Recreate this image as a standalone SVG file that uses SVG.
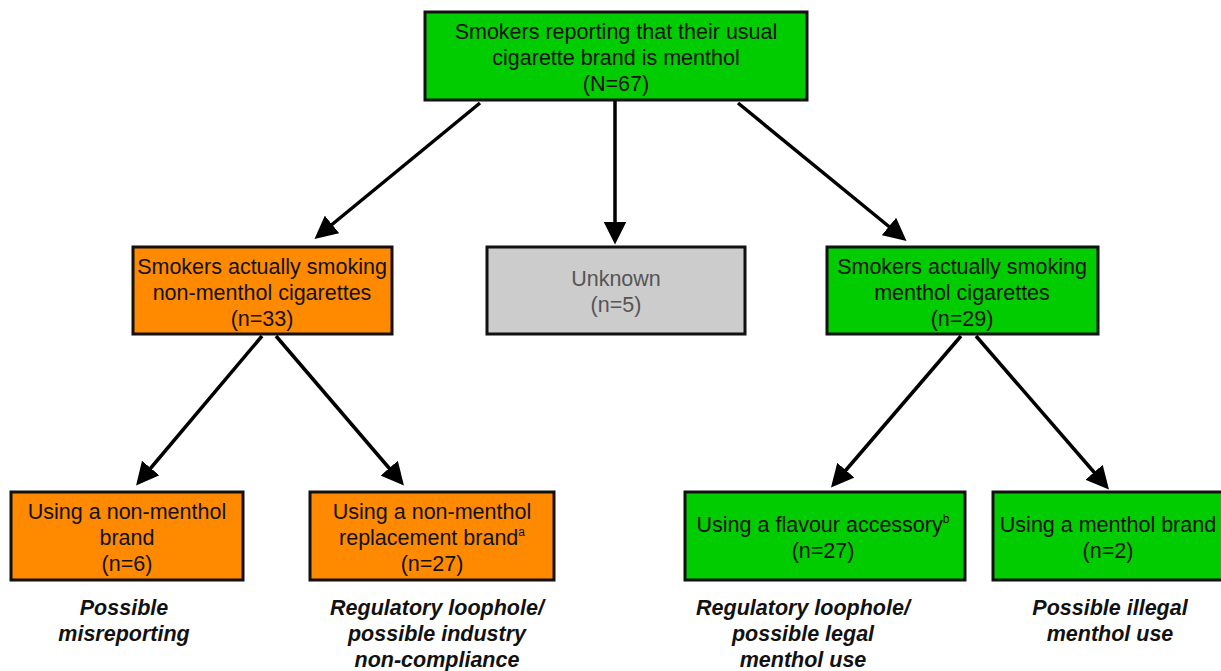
<svg xmlns="http://www.w3.org/2000/svg" width="1221" height="671" viewBox="0 0 1221 671">
<style>
.box{stroke:#111;stroke-width:3}
.g{fill:#00CC00}
.o{fill:#FF8A00}
.u{fill:#CCCCCC}
text{font-family:"Liberation Sans",Arial,sans-serif;font-size:21.5px;text-anchor:middle;fill:#111}
.grey{fill:#555}
.lab{font-weight:bold;font-style:italic;font-size:21.5px}
.c{stroke:#000;stroke-width:3.5;fill:none;marker-end:url(#ah)}
</style>
<defs>
<marker id="ah" viewBox="0 0 10 10" refX="8" refY="5" markerWidth="6.5" markerHeight="6.5" orient="auto" markerUnits="strokeWidth">
<path d="M0,0 L10,5 L0,10 z" fill="#000"/>
</marker>
</defs>
<rect width="1221" height="671" fill="#fff"/>
<g id="connectors">
<line class="c" x1="480" y1="103" x2="318" y2="236"/>
<line class="c" x1="615" y1="100" x2="615" y2="240"/>
<line class="c" x1="738" y1="103" x2="903" y2="238"/>
<line class="c" x1="262" y1="336" x2="139" y2="482"/>
<line class="c" x1="276" y1="336" x2="401" y2="482"/>
<line class="c" x1="961" y1="336" x2="834" y2="484"/>
<line class="c" x1="976" y1="336" x2="1106" y2="486"/>
</g>
<g id="top">
<rect class="box g" x="425" y="12" width="382" height="88"/>
<text x="616" y="39">Smokers reporting that their usual</text>
<text x="616" y="65">cigarette brand is menthol</text>
<text x="616" y="91">(N=67)</text>
</g>
<g id="nonmenthol">
<rect class="box o" x="133" y="247" width="259" height="87"/>
<text x="262" y="274">Smokers actually smoking</text>
<text x="262" y="300">non-menthol cigarettes</text>
<text x="262" y="326">(n=33)</text>
</g>
<g id="unknown">
<rect class="box u" x="487" y="247" width="258" height="87"/>
<text class="grey" x="616" y="286">Unknown</text>
<text class="grey" x="616" y="312">(n=5)</text>
</g>
<g id="menthol">
<rect class="box g" x="827" y="247" width="271" height="87"/>
<text x="962" y="274">Smokers actually smoking</text>
<text x="962" y="300">menthol cigarettes</text>
<text x="962" y="326">(n=29)</text>
</g>
<g id="nonmentholbrand">
<rect class="box o" x="11" y="492" width="232" height="88"/>
<text x="127" y="519">Using a non-menthol</text>
<text x="127" y="545">brand</text>
<text x="127" y="571">(n=6)</text>
</g>
<g id="replacement">
<rect class="box o" x="310" y="492" width="244" height="88"/>
<text x="432" y="519">Using a non-menthol</text>
<text x="432" y="545">replacement brand<tspan font-size="12" dy="-9">a</tspan></text>
<text x="432" y="571">(n=27)</text>
</g>
<g id="accessory">
<rect class="box g" x="685" y="492" width="280" height="88"/>
<text x="823" y="532">Using a flavour accessory<tspan font-size="12" dy="-9">b</tspan></text>
<text x="823" y="558">(n=27)</text>
</g>
<g id="mentholbrand">
<rect class="box g" x="993" y="492" width="232" height="88"/>
<text x="1108" y="532">Using a menthol brand</text>
<text x="1108" y="558">(n=2)</text>
</g>
<g id="labels">
<text class="lab" x="124" y="615">Possible</text>
<text class="lab" x="124" y="641">misreporting</text>
<text class="lab" x="437" y="615">Regulatory loophole/</text>
<text class="lab" x="437" y="641">possible industry</text>
<text class="lab" x="437" y="667">non-compliance</text>
<text class="lab" x="803" y="615">Regulatory loophole/</text>
<text class="lab" x="803" y="641">possible legal</text>
<text class="lab" x="803" y="667">menthol use</text>
<text class="lab" x="1110" y="615">Possible illegal</text>
<text class="lab" x="1110" y="641">menthol use</text>
</g>
</svg>
